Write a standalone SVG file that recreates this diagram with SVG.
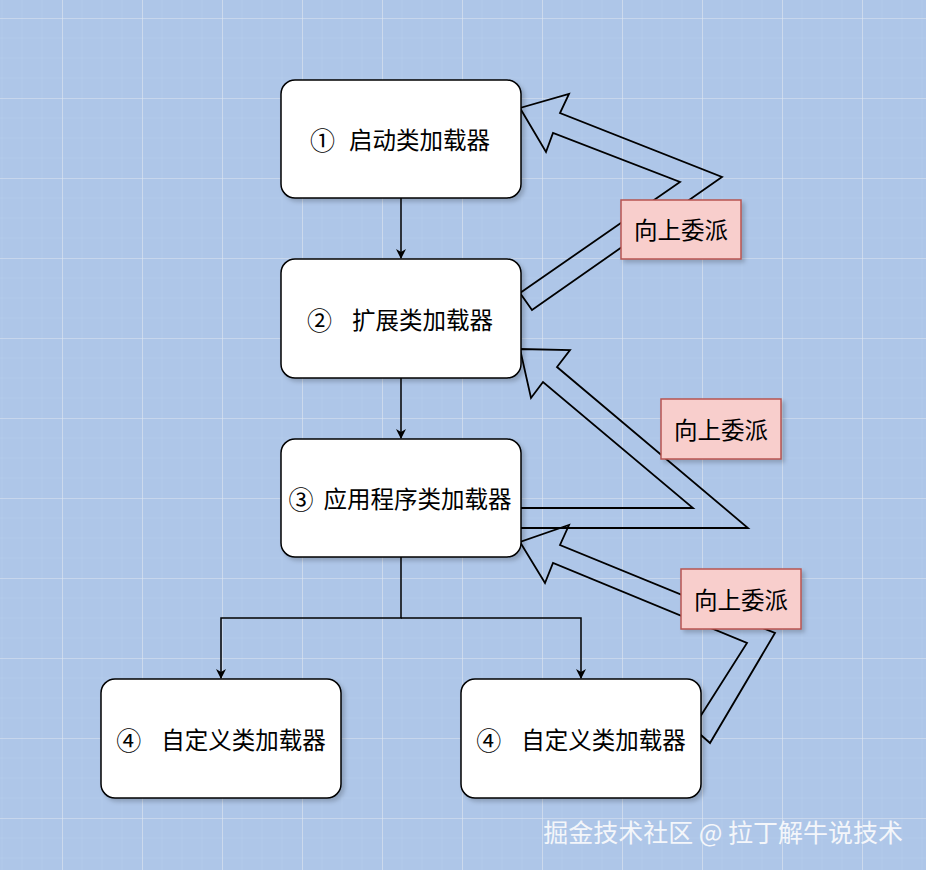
<svg xmlns="http://www.w3.org/2000/svg" width="926" height="870" viewBox="0 0 926 870">
<defs>
<pattern id="g" x="62" y="18" width="80" height="80" patternUnits="userSpaceOnUse">
<path d="M20 0V80M40 0V80M60 0V80M0 20H80M0 40H80M0 60H80" stroke="#b6cceb" stroke-width="0.6" fill="none"/>
<path d="M0 0H80M0 0V80" stroke="#dfe6ef" stroke-width="1.2" fill="none"/>
</pattern>
<marker id="a" viewBox="0 0 10 10" refX="9" refY="5" markerWidth="10" markerHeight="10" markerUnits="userSpaceOnUse" orient="auto"><path d="M0 0L10 5L0 10L3 5Z" fill="#000"/></marker>
<filter id="s" x="-10%" y="-10%" width="130%" height="130%"><feDropShadow dx="3" dy="3" stdDeviation="2" flood-color="#000" flood-opacity="0.2"/></filter>
</defs>
<style>
.box{fill:#fff;stroke:#000;stroke-width:1.5;filter:url(#s)}
.t{font-family:"Noto Sans CJK SC","Liberation Sans",sans-serif;font-size:23.5px;fill:#000;text-anchor:middle;dominant-baseline:central}
.d{font-family:"Noto Sans CJK SC",sans-serif;font-size:25px}
.lab{fill:#f8cecc;stroke:#b85450;stroke-width:1.5;filter:url(#s)}
.fat{fill:none;stroke:#000;stroke-width:1.8;stroke-linejoin:miter}
.c{fill:none;stroke:#000;stroke-width:1.5}
</style>
<rect width="926" height="870" fill="#aec6e8"/>
<rect width="926" height="870" fill="url(#g)"/>
<g id="connectors">
<path class="c" d="M401 198V258" marker-end="url(#a)"/>
<path class="c" d="M401 378V438" marker-end="url(#a)"/>
<path class="c" d="M401 557V618H221V678" marker-end="url(#a)"/>
<path class="c" d="M401 618H581V678" marker-end="url(#a)"/>
<polygon class="fat" points="520,293 680,182 553,133 546,152 520,108 569,94 560,113 722,177 532,310"/>
<polygon class="fat" points="520,508 693,508 543,382 531,398 520,349 570,350 557,367 748,528 520,528"/>
<polygon class="fat" points="693,728 747,643 553,563 545,583 520,542 569,525 560,545 775,633 710,743"/>
</g>
<g id="n1"><rect class="box" x="281" y="80" width="240" height="118" rx="14"/><text class="t" x="400" y="139"><tspan class="d">①</tspan><tspan dx="14">启动类加载器</tspan></text></g>
<g id="n2"><rect class="box" x="281" y="259" width="240" height="119" rx="14"/><text class="t" x="400" y="319"><tspan class="d">②</tspan><tspan dx="20">扩展类加载器</tspan></text></g>
<g id="n3"><rect class="box" x="281" y="439" width="240" height="118" rx="14"/><text class="t" x="400" y="498"><tspan class="d">③</tspan><tspan dx="10">应用程序类加载器</tspan></text></g>
<g id="n4"><rect class="box" x="101" y="679" width="240" height="119" rx="14"/><text class="t" x="221" y="739"><tspan class="d">④</tspan><tspan dx="20">自定义类加载器</tspan></text></g>
<g id="n5"><rect class="box" x="461" y="679" width="240" height="119" rx="14"/><text class="t" x="581" y="739"><tspan class="d">④</tspan><tspan dx="20">自定义类加载器</tspan></text></g>
<g id="l1"><rect class="lab" x="621" y="200" width="120" height="59"/><text class="t" x="681" y="229">向上委派</text></g>
<g id="l2"><rect class="lab" x="661" y="399" width="120" height="60"/><text class="t" x="721" y="429">向上委派</text></g>
<g id="l3"><rect class="lab" x="681" y="569" width="120" height="60"/><text class="t" x="741" y="599">向上委派</text></g>
<text x="903" y="831" font-family="Noto Sans CJK SC,sans-serif" font-size="25" fill="#f4f6fa" text-anchor="end" dominant-baseline="central">掘金技术社区 @ 拉丁解牛说技术</text>
</svg>
